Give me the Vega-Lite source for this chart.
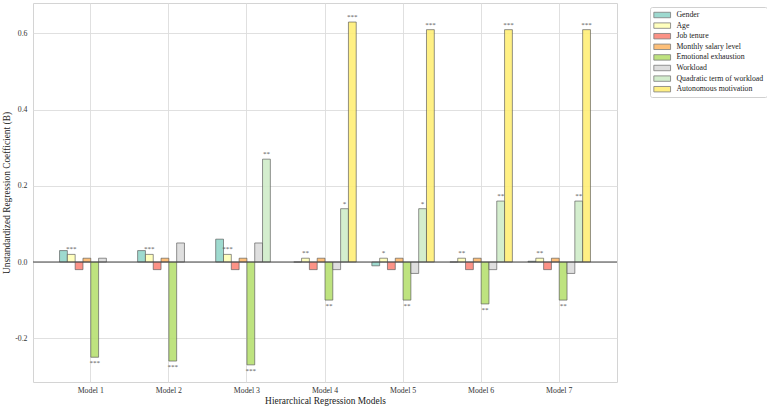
{
  "$schema": "https://vega.github.io/schema/vega-lite/v6.json",
  "width": 584,
  "height": 379,
  "autosize": {"type": "none"},
  "padding": {"left": 33, "top": 3, "right": 150, "bottom": 28},
  "config": {
    "font": "Liberation Serif",
    "view": {"stroke": "#d4d4d4", "strokeWidth": 1},
    "axis": {"labelFont": "Liberation Serif", "titleFont": "Liberation Serif", "labelColor": "#333", "titleColor": "#222", "titleFontWeight": "normal", "domain": false, "ticks": false, "gridColor": "#dcdcdc", "gridWidth": 0.9}
  },
  "datasets": {
    "coef": [
      {"model": "Model 1", "variable": "Gender", "B": 0.03, "sig": ""},
      {"model": "Model 1", "variable": "Age", "B": 0.02, "sig": "***"},
      {"model": "Model 1", "variable": "Job tenure", "B": -0.02, "sig": ""},
      {"model": "Model 1", "variable": "Monthly salary level", "B": 0.01, "sig": ""},
      {"model": "Model 1", "variable": "Emotional exhaustion", "B": -0.25, "sig": "***"},
      {"model": "Model 1", "variable": "Workload", "B": 0.01, "sig": ""},
      {"model": "Model 2", "variable": "Gender", "B": 0.03, "sig": ""},
      {"model": "Model 2", "variable": "Age", "B": 0.02, "sig": "***"},
      {"model": "Model 2", "variable": "Job tenure", "B": -0.02, "sig": ""},
      {"model": "Model 2", "variable": "Monthly salary level", "B": 0.01, "sig": ""},
      {"model": "Model 2", "variable": "Emotional exhaustion", "B": -0.26, "sig": "***"},
      {"model": "Model 2", "variable": "Workload", "B": 0.05, "sig": ""},
      {"model": "Model 3", "variable": "Gender", "B": 0.06, "sig": ""},
      {"model": "Model 3", "variable": "Age", "B": 0.02, "sig": "***"},
      {"model": "Model 3", "variable": "Job tenure", "B": -0.02, "sig": ""},
      {"model": "Model 3", "variable": "Monthly salary level", "B": 0.01, "sig": ""},
      {"model": "Model 3", "variable": "Emotional exhaustion", "B": -0.27, "sig": "***"},
      {"model": "Model 3", "variable": "Workload", "B": 0.05, "sig": ""},
      {"model": "Model 3", "variable": "Quadratic term of workload", "B": 0.27, "sig": "**"},
      {"model": "Model 4", "variable": "Gender", "B": 0.0, "sig": ""},
      {"model": "Model 4", "variable": "Age", "B": 0.01, "sig": "**"},
      {"model": "Model 4", "variable": "Job tenure", "B": -0.02, "sig": ""},
      {"model": "Model 4", "variable": "Monthly salary level", "B": 0.01, "sig": ""},
      {"model": "Model 4", "variable": "Emotional exhaustion", "B": -0.10, "sig": "**"},
      {"model": "Model 4", "variable": "Workload", "B": -0.02, "sig": ""},
      {"model": "Model 4", "variable": "Quadratic term of workload", "B": 0.14, "sig": "*"},
      {"model": "Model 4", "variable": "Autonomous motivation", "B": 0.63, "sig": "***"},
      {"model": "Model 5", "variable": "Gender", "B": -0.01, "sig": ""},
      {"model": "Model 5", "variable": "Age", "B": 0.01, "sig": "*"},
      {"model": "Model 5", "variable": "Job tenure", "B": -0.02, "sig": ""},
      {"model": "Model 5", "variable": "Monthly salary level", "B": 0.01, "sig": ""},
      {"model": "Model 5", "variable": "Emotional exhaustion", "B": -0.10, "sig": "**"},
      {"model": "Model 5", "variable": "Workload", "B": -0.03, "sig": ""},
      {"model": "Model 5", "variable": "Quadratic term of workload", "B": 0.14, "sig": "*"},
      {"model": "Model 5", "variable": "Autonomous motivation", "B": 0.61, "sig": "***"},
      {"model": "Model 6", "variable": "Gender", "B": 0.0, "sig": ""},
      {"model": "Model 6", "variable": "Age", "B": 0.01, "sig": "**"},
      {"model": "Model 6", "variable": "Job tenure", "B": -0.02, "sig": ""},
      {"model": "Model 6", "variable": "Monthly salary level", "B": 0.01, "sig": ""},
      {"model": "Model 6", "variable": "Emotional exhaustion", "B": -0.11, "sig": "**"},
      {"model": "Model 6", "variable": "Workload", "B": -0.02, "sig": ""},
      {"model": "Model 6", "variable": "Quadratic term of workload", "B": 0.16, "sig": "**"},
      {"model": "Model 6", "variable": "Autonomous motivation", "B": 0.61, "sig": "***"},
      {"model": "Model 7", "variable": "Gender", "B": 0.002, "sig": ""},
      {"model": "Model 7", "variable": "Age", "B": 0.01, "sig": "**"},
      {"model": "Model 7", "variable": "Job tenure", "B": -0.02, "sig": ""},
      {"model": "Model 7", "variable": "Monthly salary level", "B": 0.01, "sig": ""},
      {"model": "Model 7", "variable": "Emotional exhaustion", "B": -0.10, "sig": "**"},
      {"model": "Model 7", "variable": "Workload", "B": -0.03, "sig": ""},
      {"model": "Model 7", "variable": "Quadratic term of workload", "B": 0.16, "sig": "**"},
      {"model": "Model 7", "variable": "Autonomous motivation", "B": 0.61, "sig": "***"}
    ],
    "zero": [{"B": 0}]
  },
  "layer": [
    {
      "data": {"name": "coef"},
      "mark": {"type": "bar", "fillOpacity": 0.85, "stroke": "#555", "strokeOpacity": 0.8, "strokeWidth": 0.8},
      "encoding": {
        "x": {"field": "model", "type": "nominal", "scale": {"paddingInner": 0.2, "paddingOuter": 0.34}, "axis": {"title": "Hierarchical Regression Models", "labelAngle": 0, "labelFontSize": 7.8, "titleFontSize": 9.4, "labelPadding": 4, "titlePadding": 3, "grid": true, "bandPosition": 0.5}},
        "xOffset": {"field": "variable", "type": "nominal", "scale": {"domain": ["Gender", "Age", "Job tenure", "Monthly salary level", "Emotional exhaustion", "Workload", "Quadratic term of workload", "Autonomous motivation"], "paddingInner": 0, "paddingOuter": 0}},
        "y": {"field": "B", "type": "quantitative", "scale": {"domain": [-0.315, 0.68], "nice": false, "zero": false}, "axis": {"title": "Unstandardized Regression Coefficient (B)", "values": [-0.2, 0, 0.2, 0.4, 0.6], "labelExpr": "datum.value < 0 ? '-' + format(-datum.value, '.1f') : format(datum.value, '.1f')", "labelFontSize": 7.8, "titleFontSize": 9.4, "labelPadding": 6, "titlePadding": 3, "grid": true}},
        "color": {"field": "variable", "type": "nominal", "scale": {"domain": ["Gender", "Age", "Job tenure", "Monthly salary level", "Emotional exhaustion", "Workload", "Quadratic term of workload", "Autonomous motivation"], "range": ["#8dd3c7", "#ffffb3", "#fb8072", "#fdb462", "#b3de69", "#d9d9d9", "#ccebc5", "#ffed6f"]}, "legend": {"title": null, "orient": "none", "legendX": 617, "legendY": 4, "symbolType": "M-1,-0.65L3,-0.65L3,0.65L-1,0.65Z", "symbolSize": 70, "symbolStrokeColor": "#666", "symbolStrokeWidth": 0.8, "symbolOpacity": 0.85, "labelFontSize": 7.8, "labelFont": "Liberation Serif", "labelColor": "#222", "labelLimit": 200, "rowPadding": 0.6, "labelOffset": 13.4, "strokeColor": "#d0d0d0", "fillColor": "white", "padding": 3, "cornerRadius": 2}}
      }
    },
    {
      "data": {"name": "zero"},
      "mark": {"type": "rule", "color": "#444", "strokeWidth": 1.2},
      "encoding": {"y": {"field": "B", "type": "quantitative"}}
    },
    {
      "data": {"name": "coef"},
      "transform": [{"filter": "datum.sig != '' && datum.B >= 0"}],
      "mark": {"type": "text", "baseline": "bottom", "dy": -2, "fontSize": 7, "color": "#555"},
      "encoding": {
        "x": {"field": "model", "type": "nominal"},
        "xOffset": {"field": "variable", "type": "nominal"},
        "y": {"field": "B", "type": "quantitative"},
        "text": {"field": "sig"}
      }
    },
    {
      "data": {"name": "coef"},
      "transform": [{"filter": "datum.sig != '' && datum.B < 0"}],
      "mark": {"type": "text", "baseline": "top", "dy": 2, "fontSize": 7, "color": "#555"},
      "encoding": {
        "x": {"field": "model", "type": "nominal"},
        "xOffset": {"field": "variable", "type": "nominal"},
        "y": {"field": "B", "type": "quantitative"},
        "text": {"field": "sig"}
      }
    }
  ]
}
